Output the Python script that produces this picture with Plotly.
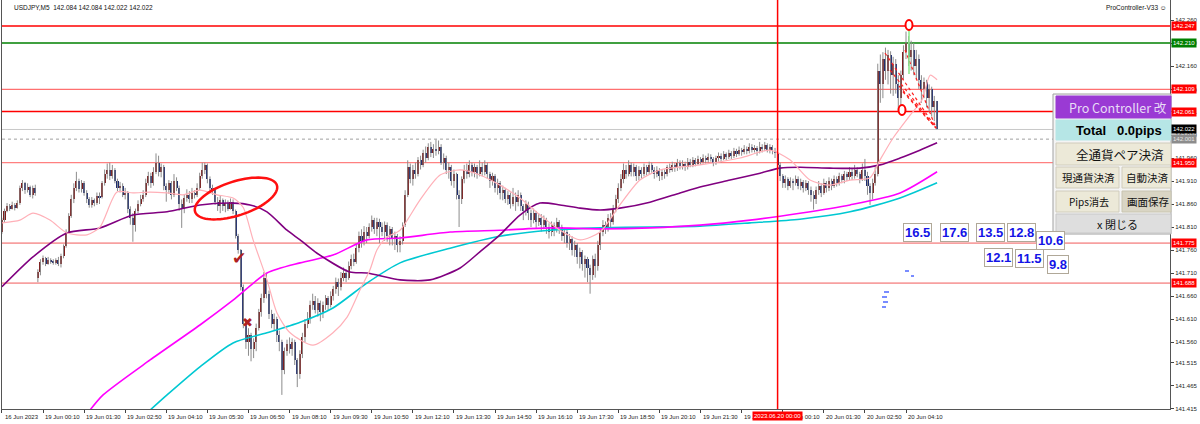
import math
import plotly.graph_objects as go

SYMBOL = "USDJPY,M5"

# ---------------- candle data (USDJPY M5) ----------------
close_ = [141.825,141.845,141.855,141.850,141.858,141.852,141.862,141.895,141.905,141.890,
141.898,141.880,141.895,141.885,141.712,141.735,141.742,141.730,141.738,141.735,
141.732,141.738,141.730,141.748,141.768,141.800,141.835,141.870,141.895,141.910,
141.892,141.905,141.885,141.870,141.858,141.868,141.862,141.878,141.875,141.905,
141.925,141.935,141.920,141.935,141.910,141.895,141.900,141.880,141.885,141.850,
141.830,141.815,141.845,141.860,141.870,141.880,141.905,141.920,141.905,141.930,
141.950,141.930,141.940,141.900,141.890,141.905,141.880,141.910,141.895,141.860,
141.850,141.872,141.880,141.870,141.885,141.880,141.895,141.920,141.935,141.945,
141.915,141.895,141.890,141.865,141.855,141.868,141.855,141.862,141.850,141.865,
141.845,141.790,141.760,141.680,141.600,141.560,141.575,141.545,141.560,141.590,
141.625,141.655,141.700,141.665,141.620,141.600,141.610,141.575,141.560,141.500,
141.540,141.555,141.545,141.560,141.520,141.490,141.535,141.570,141.600,141.610,
141.640,141.650,141.630,141.645,141.625,141.640,141.655,141.640,141.660,141.675,
141.690,141.680,141.700,141.710,141.700,141.725,141.740,141.735,141.765,141.790,
141.780,141.800,141.790,141.810,141.825,141.805,141.820,141.810,141.800,141.815,
141.790,141.805,141.785,141.790,141.770,141.780,141.815,141.880,141.940,141.915,
141.935,141.925,141.955,141.945,141.970,141.960,141.985,141.970,141.980,141.975,
141.985,141.950,141.960,141.935,141.940,141.910,141.925,141.880,141.870,141.915,
141.935,141.925,141.945,141.930,141.940,141.925,141.940,141.930,141.945,141.925,
141.910,141.920,141.895,141.905,141.885,141.890,141.870,141.880,141.860,141.875,
141.865,141.880,141.855,141.845,141.860,141.840,141.825,141.840,141.820,141.830,
141.815,141.825,141.810,141.800,141.815,141.805,141.820,141.810,141.790,141.800,
141.775,141.785,141.760,141.770,141.745,141.755,141.730,141.740,141.720,141.705,
141.740,141.725,141.770,141.800,141.815,141.805,141.830,141.820,141.850,141.870,
141.895,141.915,141.935,141.925,141.945,141.930,141.940,141.920,141.935,141.925,
141.940,141.930,141.945,141.935,141.925,141.935,141.920,141.930,141.925,141.940,
141.935,141.945,141.938,141.950,141.942,141.948,141.940,141.952,141.945,141.955,
141.948,141.958,141.952,141.960,141.955,141.962,141.958,141.950,141.960,141.965,
141.958,141.968,141.962,141.970,141.965,141.975,141.968,141.978,141.972,141.980,
141.975,141.985,141.978,141.982,141.975,141.985,141.980,141.988,141.978,141.985,
141.975,141.970,141.945,141.920,141.905,141.915,141.900,141.910,141.905,141.915,
141.900,141.908,141.895,141.905,141.890,141.880,141.870,141.890,141.900,141.885,
141.905,141.895,141.910,141.900,141.915,141.905,141.920,141.912,141.925,141.918,
141.930,141.920,141.935,141.925,141.915,141.935,141.920,141.900,141.885,141.905,
141.925,142.150,142.120,142.175,142.150,142.185,142.140,142.165,142.120,142.090,
142.140,142.190,142.210,142.180,142.195,142.160,142.175,142.130,142.110,142.125,
142.090,142.110,142.070,142.084,142.022]

high_ = [141.830,141.850,141.862,141.860,141.865,141.862,141.868,141.900,141.912,141.908,
141.905,141.900,141.900,141.902,141.718,141.740,141.748,141.745,141.745,141.742,
141.740,141.742,141.745,141.752,141.772,141.805,141.840,141.880,141.905,141.930,
141.915,141.912,141.910,141.890,141.875,141.875,141.872,141.885,141.885,141.910,
141.935,141.948,141.950,141.945,141.938,141.915,141.908,141.905,141.895,141.888,
141.855,141.840,141.850,141.868,141.880,141.890,141.915,141.930,141.928,141.940,
141.970,141.965,141.948,141.945,141.905,141.912,141.910,141.925,141.918,141.900,
141.870,141.880,141.892,141.888,141.895,141.890,141.905,141.928,141.950,141.950,
141.948,141.920,141.902,141.895,141.875,141.878,141.872,141.870,141.868,141.872,
141.870,141.848,141.795,141.762,141.685,141.610,141.590,141.580,141.568,141.600,
141.632,141.665,141.712,141.708,141.672,141.630,141.622,141.615,141.585,141.565,
141.548,141.565,141.570,141.568,141.565,141.525,141.542,141.580,141.610,141.625,
141.650,141.665,141.660,141.655,141.650,141.648,141.662,141.660,141.670,141.682,
141.700,141.698,141.712,141.722,141.718,141.735,141.750,141.752,141.775,141.800,
141.805,141.812,141.810,141.818,141.835,141.830,141.830,141.828,141.820,141.822,
141.820,141.812,141.810,141.800,141.795,141.790,141.820,141.890,141.955,141.948,
141.945,141.950,141.962,141.965,141.978,141.985,141.992,141.995,141.990,142.000,
141.998,141.990,141.970,141.965,141.950,141.945,141.935,141.928,141.890,141.920,
141.945,141.948,141.955,141.950,141.948,141.945,141.955,141.950,141.955,141.950,
141.930,141.928,141.925,141.915,141.910,141.900,141.895,141.888,141.885,141.895,
141.885,141.890,141.885,141.860,141.868,141.865,141.848,141.850,141.845,141.840,
141.838,141.835,141.830,141.818,141.822,141.820,141.830,141.825,141.815,141.808,
141.805,141.795,141.790,141.780,141.775,141.765,141.760,141.748,141.745,141.728,
141.748,141.752,141.780,141.810,141.825,141.822,141.838,141.840,141.858,141.880,
141.905,141.925,141.948,141.945,141.955,141.950,141.948,141.945,141.942,141.940,
141.948,141.945,141.952,141.950,141.940,141.942,141.938,141.935,141.935,141.945,
141.948,141.952,141.950,141.958,141.955,141.955,141.952,141.960,141.958,141.962,
141.960,141.965,141.962,141.968,141.965,141.970,141.968,141.962,141.965,141.972,
141.970,141.975,141.972,141.978,141.975,141.982,141.980,141.985,141.982,141.988,
141.985,141.992,141.990,141.988,141.986,141.995,141.990,141.995,141.992,141.990,
141.988,141.982,141.972,141.950,141.925,141.922,141.918,141.918,141.915,141.922,
141.920,141.915,141.912,141.912,141.910,141.898,141.888,141.898,141.910,141.905,
141.915,141.910,141.918,141.915,141.922,141.920,141.928,141.925,141.932,141.930,
141.940,141.938,141.945,141.940,141.930,141.948,141.958,141.930,141.905,141.915,
141.940,142.165,142.185,142.190,142.200,142.195,142.192,142.180,142.175,142.140,
142.150,142.205,142.235,142.225,142.215,142.210,142.195,142.185,142.140,142.135,
142.130,142.120,142.115,142.095,142.084]

low_ = [141.795,141.820,141.842,141.845,141.848,141.846,141.850,141.858,141.888,141.882,
141.885,141.875,141.872,141.878,141.690,141.705,141.728,141.725,141.728,141.730,
141.728,141.728,141.725,141.722,141.742,141.765,141.795,141.830,141.862,141.888,
141.885,141.885,141.878,141.862,141.852,141.852,141.855,141.858,141.860,141.872,
141.900,141.915,141.912,141.915,141.905,141.888,141.885,141.875,141.870,141.840,
141.815,141.778,141.800,141.840,141.855,141.865,141.875,141.900,141.895,141.900,
141.925,141.920,141.918,141.890,141.865,141.882,141.870,141.875,141.888,141.845,
141.808,141.840,141.865,141.862,141.862,141.872,141.875,141.890,141.915,141.925,
141.905,141.888,141.880,141.858,141.845,141.840,141.845,141.842,141.845,141.848,
141.838,141.785,141.752,141.672,141.590,141.545,141.530,141.518,141.525,141.540,
141.585,141.615,141.645,141.655,141.610,141.590,141.585,141.560,141.540,141.445,
141.490,141.530,141.535,141.530,141.510,141.462,141.480,141.525,141.560,141.590,
141.600,141.630,141.622,141.615,141.605,141.612,141.630,141.628,141.635,141.650,
141.665,141.660,141.672,141.692,141.690,141.695,141.718,141.725,141.730,141.755,
141.765,141.770,141.775,141.785,141.800,141.795,141.790,141.775,141.790,141.780,
141.778,141.770,141.770,141.760,141.755,141.755,141.772,141.810,141.875,141.905,
141.900,141.915,141.920,141.935,141.940,141.950,141.955,141.962,141.960,141.965,
141.968,141.945,141.935,141.925,141.915,141.900,141.895,141.870,141.810,141.860,
141.905,141.915,141.918,141.920,141.918,141.915,141.920,141.920,141.922,141.915,
141.895,141.900,141.885,141.880,141.870,141.868,141.862,141.858,141.850,141.855,
141.845,141.855,141.845,141.825,141.835,141.825,141.810,141.818,141.808,141.812,
141.800,141.805,141.795,141.785,141.790,141.790,141.798,141.795,141.780,141.775,
141.765,141.760,141.748,141.745,141.730,141.720,141.715,141.700,141.690,141.665,
141.695,141.700,141.715,141.760,141.790,141.795,141.800,141.810,141.815,141.842,
141.862,141.888,141.905,141.915,141.920,141.920,141.920,141.910,141.912,141.915,
141.920,141.922,141.925,141.928,141.915,141.918,141.910,141.912,141.915,141.920,
141.928,141.930,141.930,141.932,141.935,141.935,141.932,141.935,141.940,141.940,
141.942,141.945,141.945,141.948,141.948,141.950,141.952,141.942,141.945,141.952,
141.950,141.955,141.955,141.958,141.958,141.960,141.962,141.965,141.965,141.968,
141.968,141.970,141.972,141.972,141.965,141.970,141.972,141.975,141.972,141.970,
141.968,141.960,141.935,141.910,141.895,141.895,141.890,141.895,141.890,141.900,
141.892,141.890,141.885,141.888,141.880,141.865,141.848,141.860,141.880,141.875,
141.880,141.885,141.888,141.890,141.895,141.898,141.900,141.905,141.905,141.910,
141.912,141.912,141.915,141.918,141.905,141.910,141.910,141.880,141.858,141.870,
141.900,141.920,142.080,142.090,142.130,142.120,142.100,142.095,142.100,142.065,
142.060,142.130,142.175,142.160,142.150,142.140,142.130,142.110,142.080,142.090,
142.070,142.060,142.050,142.040,142.022]

# opening prices of the two sessions (Friday close area / Monday gap open)
session_open = {0: 141.800, 14: 141.700}
open_ = [session_open[i] if i in session_open else close_[i - 1] for i in range(len(close_))]

# ---------------- moving averages (bar index, price) ----------------
ma_pink_bar = [0,7,12.1,18.7,25.3,33.1,38.2,44.8,51,57.7,64.3,70.5,77.1,83.8,90,93.9,97.8,103.2,107.1,112.2,
               121.1,128.9,134.4,139.4,143.3,146,149.9,155,162.8,170.6,178.4,186.1,193.9,201.7,209.5,217.3,
               225.1,232.9,240.6,248.4,256.2,271.8,287.4,299,306.8,314.6,322.4,330.2,338,341.9,346.9,353.6,
               358.2,361.4,364.1]
ma_pink_val = [141.819,141.825,141.840,141.825,141.797,141.793,141.810,141.886,141.884,141.886,141.884,
               141.880,141.890,141.880,141.873,141.853,141.782,141.695,141.623,141.580,141.553,141.580,
               141.614,141.673,141.717,141.760,141.788,141.803,141.869,141.923,141.934,141.923,141.901,
               141.873,141.836,141.803,141.782,141.799,141.858,141.912,141.934,141.945,141.960,141.977,
               141.956,141.912,141.901,141.912,141.917,141.956,142.003,142.053,142.086,142.140,142.130]

ma_purple_bar = [0,12.1,25.3,38.2,51,64.3,77.1,90,96.6,103.2,111,116.1,122.7,135.5,142.1,155,166.7,178.4,
                 186.1,193.9,201.7,209.5,217.3,225.1,232.9,240.6,252.3,264,271.8,283.5,295.2,302.9,310.7,
                 322.4,334.1,341.9,349.7,357.4,364.1]
ma_purple_val = [141.680,141.745,141.797,141.808,141.836,141.843,141.858,141.862,141.858,141.843,141.803,
                 141.782,141.753,141.712,141.710,141.695,141.695,141.721,141.756,141.793,141.836,141.862,
                 141.858,141.851,141.847,141.851,141.864,141.884,141.897,141.912,141.927,141.938,141.940,
                 141.938,141.938,141.945,141.960,141.977,141.993]

ma_magenta_bar = [34.3,39.4,57.7,77.1,90,103.2,116.1,128.9,142.1,155,174.5,193.9,213.4,232.9,252.3,271.8,
                  291.3,310.7,330.2,349.7,364.1]
ma_magenta_val = [141.412,141.445,141.521,141.597,141.651,141.710,141.732,141.749,141.782,141.786,141.799,
                  141.803,141.808,141.806,141.808,141.814,141.825,141.840,141.858,141.884,141.930]

ma_cyan_bar = [57.7,64.3,77.1,90,103.2,116.1,128.9,142.1,155,174.5,193.9,213.4,232.9,252.3,271.8,291.3,
               310.7,330.2,349.7,364.1]
ma_cyan_val = [141.412,141.445,141.506,141.558,141.580,141.603,141.634,141.688,141.732,141.764,141.790,
               141.803,141.808,141.810,141.812,141.819,141.827,141.843,141.873,141.906]

# ---------------- axis labels / levels ----------------
price_ticks = [142.260,142.210,142.160,142.109,142.061,142.010,141.960,141.910,141.860,141.810,
               141.760,141.710,141.660,141.610,141.560,141.515,141.465,141.415]
time_tick_bars = [0,16,32,48,64,80,96,112,128,144,160,176,192,208,224,240,256,272,288,304,320,336,352]
time_tick_labels = ["16 Jun 2023","19 Jun 00:10","19 Jun 01:30","19 Jun 02:50","19 Jun 04:10",
                    "19 Jun 05:30","19 Jun 06:50","19 Jun 08:10","19 Jun 09:30","19 Jun 10:50",
                    "19 Jun 12:10","19 Jun 13:30","19 Jun 14:50","19 Jun 16:10","19 Jun 17:30",
                    "19 Jun 18:50","19 Jun 20:10","19 Jun 21:30","19 Jun 22:50","20 Jun 00:10",
                    "20 Jun 01:30","20 Jun 02:50","20 Jun 04:10"]
level_prices = [142.247,142.210,142.109,142.061,141.950,141.775,141.688]
level_colors = ["#ff0000","#008000","#ff7070","#ff0000","#ff8080","#f7a0a0","#f7a0a0"]
level_label_bg = ["#ff0000","#008000","#ff0000","#ff0000","#ff0000","#ff0000","#ff0000"]
level_widths = [1.6,1.4,1.2,1.6,1.2,1.6,1.6]
bid_price = 142.022
ask_price = 142.001
vline_bar = 302
vline_label = "2023.06.20 00:00"
pip_labels = ["16.5","17.6","13.5","12.8","10.6","12.1","11.5","9.8"]

# ---------------- geometry helpers (image pixels -> axes) ----------------
PX0, PXW = 2.0, 1168.0      # plot area left / width in px
PYH = 409.0                 # plot area height in px
BAR_PX, BAR0_PX = 2.5685, 1.9
PPX = 460.0                 # px per 1.000 price
Y_REF_PRICE, Y_REF_PX = 142.260, 20.0

def bx(px):
    return (px - BAR0_PX) / BAR_PX

def pr(py):
    return Y_REF_PRICE - (py - Y_REF_PX) / PPX

def fx(px):
    return (px - PX0) / PXW

def fy(py):
    return 1 - py / PYH

x_range = [bx(PX0), bx(PX0 + PXW)]
y_range = [pr(PYH), pr(0)]

n = len(close_)
idx = list(range(n))

fig = go.Figure()

# wicks
wx, wy = [], []
for i in idx:
    wx += [i, i, None]
    wy += [low_[i], high_[i], None]
fig.add_trace(go.Scatter(x=wx, y=wy, mode="lines", line=dict(color="#8c8c8c", width=1),
                         hoverinfo="skip", showlegend=False))
# bodies
base = [min(o, c) for o, c in zip(open_, close_)]
hgt = [abs(c - o) for o, c in zip(open_, close_)]
cols = ["#7d1a1a" if c >= o else "#1d2c70" for o, c in zip(open_, close_)]
fig.add_trace(go.Bar(x=idx, y=hgt, base=base, width=0.8,
                     marker=dict(color=cols, line=dict(width=0)),
                     hoverinfo="skip", showlegend=False))

# moving averages
for bars, vals, col, w in [(ma_cyan_bar, ma_cyan_val, "#00c8d2", 1.6),
                           (ma_magenta_bar, ma_magenta_val, "#ff00ff", 1.6),
                           (ma_purple_bar, ma_purple_val, "#800080", 1.6),
                           (ma_pink_bar, ma_pink_val, "#ffb0b8", 1.2)]:
    fig.add_trace(go.Scatter(x=bars, y=vals, mode="lines",
                             line=dict(color=col, width=w, shape="spline", smoothing=0.7),
                             hoverinfo="skip", showlegend=False))

shapes = []
# horizontal levels
for p, c, w in zip(level_prices, level_colors, level_widths):
    shapes.append(dict(type="line", xref="paper", x0=0, x1=1, yref="y", y0=p, y1=p,
                       line=dict(color=c, width=w), layer="below"))
shapes.append(dict(type="line", xref="paper", x0=0, x1=1, yref="y", y0=bid_price, y1=bid_price,
                   line=dict(color="#c8c8c8", width=1), layer="below"))
shapes.append(dict(type="line", xref="paper", x0=0, x1=1, yref="y", y0=ask_price, y1=ask_price,
                   line=dict(color="#a0a0a0", width=1, dash="dot"), layer="below"))
# vertical date line
shapes.append(dict(type="line", xref="x", x0=vline_bar, x1=vline_bar, yref="paper", y0=0, y1=1,
                   line=dict(color="#ff0000", width=1.5)))

# tilted ellipse (drawn object)
cx, cy, ra, rb, th = 236.0, 198.5, 43.0, 17.0, math.radians(18)
pts = []
for k in range(73):
    t = 2 * math.pi * k / 72
    dx, dy = ra * math.cos(t), rb * math.sin(t)
    X = cx + dx * math.cos(th) + dy * math.sin(th)
    Y = cy - dx * math.sin(th) + dy * math.cos(th)
    pts.append(f"{bx(X):.3f},{pr(Y):.5f}")
shapes.append(dict(type="path", xref="x", yref="y", path="M " + " L ".join(pts) + " Z",
                   line=dict(color="#ff1010", width=2.5)))

# red dotted fan lines near the top
for (xa, ya) in [(885, 53), (890, 70), (899, 86), (903, 92), (905, 50)]:
    shapes.append(dict(type="line", xref="x", yref="y", x0=bx(xa), y0=pr(ya), x1=bx(936), y1=pr(128),
                       line=dict(color="#ff2020", width=1.2, dash="dot")))
# green marker line
shapes.append(dict(type="line", xref="x", yref="y", x0=bx(909), x1=bx(909), y0=pr(30), y1=pr(74),
                   line=dict(color="#88e888", width=1.5)))
# red "0" circles
for (xa, ya) in [(909, 25), (902, 110)]:
    shapes.append(dict(type="circle", xref="x", yref="y", xsizemode="pixel", ysizemode="pixel",
                       xanchor=bx(xa), yanchor=pr(ya), x0=-3.5, x1=3.5, y0=-5, y1=5,
                       line=dict(color="#ff0000", width=2), fillcolor="white"))
# tiny blue dashes
for (xa, xb, yy) in [(905, 909, 271), (911, 914, 276), (884, 889, 292), (882, 887, 297),
                     (883, 888, 302), (882, 886, 307)]:
    shapes.append(dict(type="line", xref="paper", yref="paper", x0=fx(xa), x1=fx(xb), y0=fy(yy), y1=fy(yy),
                       line=dict(color="#2040ff", width=1.2)))

# ---------------- panel "Pro Controller" ----------------
def rect(x0, y0, x1, y1, fill, line="#b8b8b8"):
    shapes.append(dict(type="rect", xref="paper", yref="paper", x0=fx(x0), x1=fx(x1), y0=fy(y1), y1=fy(y0),
                       fillcolor=fill, line=dict(color=line, width=1), layer="above"))

rect(1053, 94, 1171, 234, "#f4f4f4", "#a0a0a0")
rect(1056, 96, 1171, 118, "#9a3ad4", "#9a3ad4")
rect(1056, 120, 1171, 140, "#b6e6e6", "#b6e6e6")
rect(1056, 143, 1171, 165, "#ece9d8", "#d0ccbc")
rect(1056, 167, 1119, 188, "#ece9d8", "#d0ccbc")
rect(1122, 167, 1171, 188, "#ece9d8", "#d0ccbc")
rect(1056, 191, 1119, 212, "#ece9d8", "#d0ccbc")
rect(1122, 191, 1171, 212, "#d9d5c4", "#c8c4b0")
rect(1056, 214, 1171, 233, "#dedede", "#c8c8c8")

annotations = []

def txt(px, py, text, size, color="#000", family="Noto Sans CJK JP", xanchor="center", yanchor="middle", **kw):
    annotations.append(dict(xref="paper", yref="paper", x=fx(px), y=fy(py), text=text, showarrow=False,
                            xanchor=xanchor, yanchor=yanchor,
                            font=dict(size=size, color=color, family=family), **kw))

CJK = "Noto Sans CJK JP"
txt(1118, 107, "Pro Controller 改", 12.5, "#e8dcf6", CJK)
txt(1119, 130, "<b>Total\u00a0\u00a0\u00a00.0pips</b>", 13, "#000", "Liberation Sans")
txt(1120, 154, "全通貨ペア決済", 12.5, "#111", CJK)
txt(1088, 177.5, "現通貨決済", 10.5, "#111", CJK)
txt(1124, 177.5, "自動決済", 10.5, "#111", CJK, xanchor="left")
txt(1089, 201.5, "Pips消去", 10, "#111", CJK)
txt(1125, 201.5, "画面保存", 10.5, "#111", CJK, xanchor="left")
txt(1117, 223.5, "x 閉じる", 11, "#111", CJK)

# pip value boxes
pip_centers = [(917, 232.5), (954.5, 232.5), (990.5, 232.5), (1021.5, 232.5), (1050.5, 240),
               (998, 257), (1029.5, 258), (1058, 264)]
for lab, (px, py) in zip(pip_labels, pip_centers):
    txt(px, py, f"<b>{lab}</b>", 13, "#1414e6", "Liberation Sans",
        bgcolor="white", bordercolor="#b0a898", borderwidth=1, borderpad=1)

# check / cross marks
txt(239, 258, "✔", 17, "#b02020", "DejaVu Sans")
txt(247, 322, "✖", 13, "#b02020", "DejaVu Sans")

# header texts
last = n - 1
title = f"{SYMBOL}\u00a0\u00a0{open_[last]:.3f} {high_[last]:.3f} {low_[last]:.3f} {close_[last]:.3f}"
txt(12, 2, title, 6.5, "#111", "Liberation Sans", xanchor="left", yanchor="top")
txt(1168, 2, "ProController-V33 ☺", 6.5, "#111", "Liberation Sans", xanchor="right", yanchor="top")

# time labels (first one pinned to the left edge of the plot)
for b, lab in zip(time_tick_bars, time_tick_labels):
    annotations.append(dict(xref="x", yref="paper", x=max(b, x_range[0] + 0.01), y=0, yanchor="top",
                            xanchor="left", yshift=-3, xshift=0 if b > 0 else 1,
                            text=lab, showarrow=False,
                            font=dict(size=6, color="#222", family="Liberation Sans")))
annotations.append(dict(xref="x", yref="paper", x=vline_bar, y=0, yanchor="top", xanchor="center", yshift=-2,
                        text=vline_label, showarrow=False, bgcolor="#ff0000", borderpad=1,
                        font=dict(size=6, color="white", family="Liberation Sans")))

# price labels on the right
def plabel(p, bg, fg="white"):
    annotations.append(dict(xref="paper", yref="y", x=1, y=p, xanchor="left", yanchor="middle", xshift=1,
                            text=f"{p:.3f}", showarrow=False, bgcolor=bg, borderpad=1,
                            font=dict(size=6, color=fg, family="Liberation Sans")))

for p, bg in zip(level_prices, level_label_bg):
    plabel(p, bg)
plabel(bid_price, "#000000")
plabel(ask_price, "#8c8c8c", "#e8e8e8")

fig.update_layout(
    width=1200, height=424,
    margin=dict(l=2, r=30, t=0, b=15),
    paper_bgcolor="white", plot_bgcolor="white",
    showlegend=False, hovermode=False, bargap=0,
    shapes=shapes, annotations=annotations,
    xaxis=dict(range=x_range, showgrid=False, zeroline=False, showticklabels=False,
               tickvals=time_tick_bars, ticks="outside", ticklen=3, tickcolor="#444",
               showline=True, linecolor="#555", linewidth=1, fixedrange=True),
    yaxis=dict(range=y_range, side="right", showgrid=False, zeroline=False,
               tickvals=price_ticks, ticktext=[f"{p:.3f}" for p in price_ticks],
               ticks="outside", ticklen=3, tickcolor="#444",
               tickfont=dict(family="Liberation Sans", size=6, color="#222"),
               showline=True, linecolor="#555", linewidth=1, mirror=True, fixedrange=True),
)

fig.write_html("out.html", config={"displayModeBar": False},
               post_script="document.body.style.margin='0';")
